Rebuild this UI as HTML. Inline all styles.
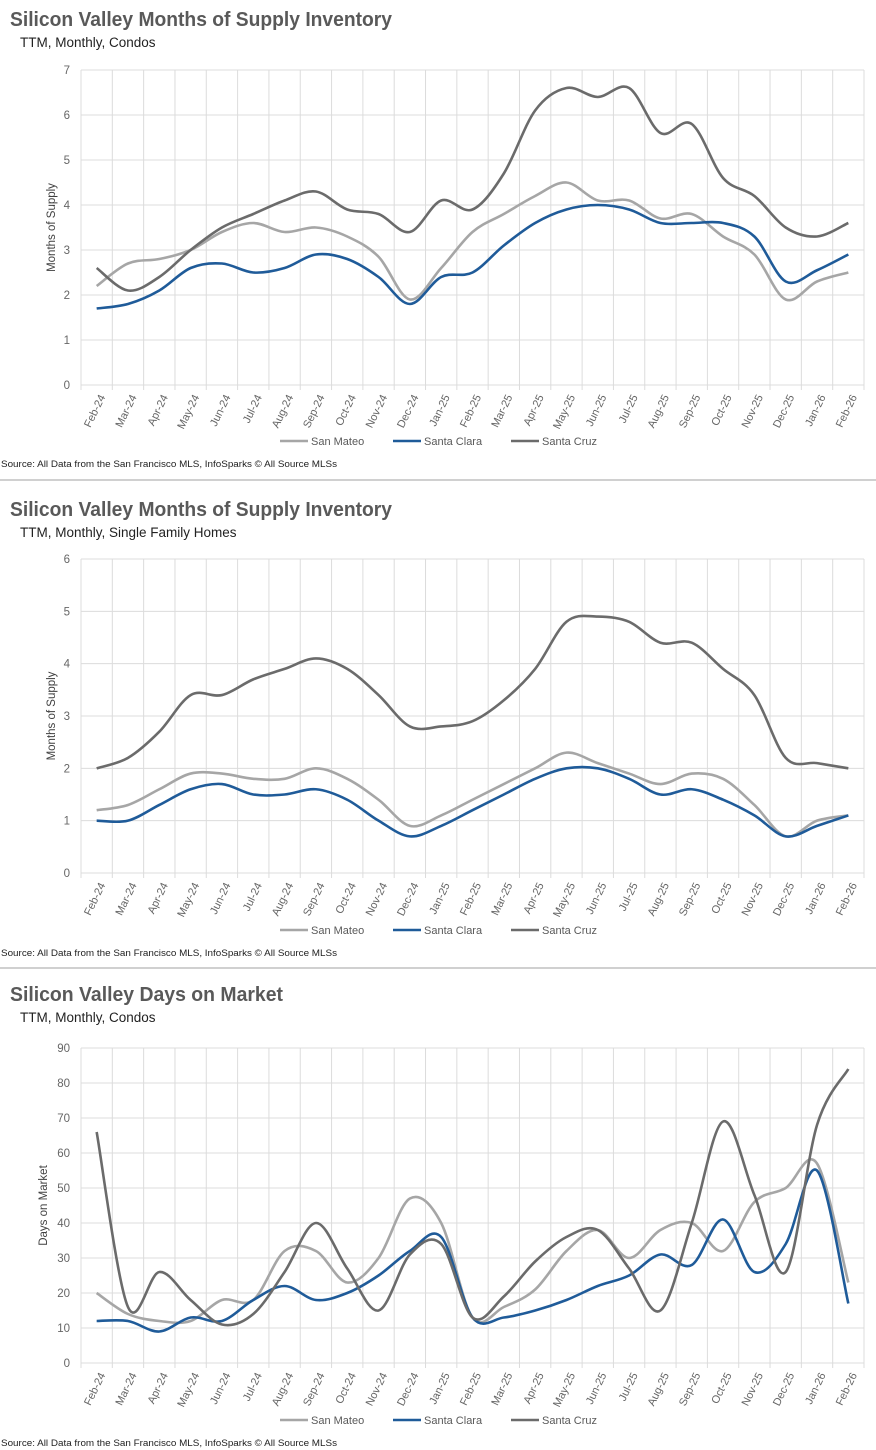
<!DOCTYPE html>
<html><head><meta charset="utf-8"><style>
body{margin:0;background:#fff;width:876px;height:1450px;overflow:hidden;font-family:"Liberation Sans",sans-serif}
svg{display:block}
</style></head><body>
<svg id="s" width="876" height="1450" xmlns="http://www.w3.org/2000/svg" font-family="Liberation Sans, sans-serif"></svg>
<script>
const months=["Feb-24","Mar-24","Apr-24","May-24","Jun-24","Jul-24","Aug-24","Sep-24","Oct-24","Nov-24","Dec-24","Jan-25","Feb-25","Mar-25","Apr-25","May-25","Jun-25","Jul-25","Aug-25","Sep-25","Oct-25","Nov-25","Dec-25","Jan-26","Feb-26"];
const seriesNames=["San Mateo","Santa Clara","Santa Cruz"];
const condoMosSanMateo=[2.2,2.7,2.8,3.0,3.4,3.6,3.4,3.5,3.3,2.85,1.9,2.6,3.4,3.8,4.2,4.5,4.1,4.1,3.7,3.8,3.3,2.9,1.9,2.3,2.5];
const condoMosSantaClara=[1.7,1.8,2.1,2.6,2.7,2.5,2.6,2.9,2.8,2.4,1.8,2.4,2.5,3.1,3.6,3.9,4.0,3.9,3.6,3.6,3.6,3.3,2.3,2.55,2.9];
const condoMosSantaCruz=[2.6,2.1,2.4,3.0,3.5,3.8,4.1,4.3,3.9,3.8,3.4,4.1,3.9,4.7,6.1,6.6,6.4,6.6,5.6,5.8,4.6,4.2,3.5,3.3,3.6];
const sfhMosSanMateo=[1.2,1.3,1.6,1.9,1.9,1.8,1.8,2.0,1.8,1.4,0.9,1.1,1.4,1.7,2.0,2.3,2.1,1.9,1.7,1.9,1.8,1.3,0.7,1.0,1.1];
const sfhMosSantaClara=[1.0,1.0,1.3,1.6,1.7,1.5,1.5,1.6,1.4,1.0,0.7,0.9,1.2,1.5,1.8,2.0,2.0,1.8,1.5,1.6,1.4,1.1,0.7,0.9,1.1];
const sfhMosSantaCruz=[2.0,2.2,2.7,3.4,3.4,3.7,3.9,4.1,3.9,3.4,2.8,2.8,2.9,3.3,3.9,4.8,4.9,4.8,4.4,4.4,3.9,3.4,2.2,2.1,2.0];
const domSanMateo=[20,14,12,12,18,18,32,32,23,30,47,40,13,16,21,32,38,30,38,40,32,46,50,57,23];
const domSantaClara=[12,12,9,13,12,18,22,18,20,25,32,36,13,13,15,18,22,25,31,28,41,26,34,55,17];
const domSantaCruz=[66,16,26,18,11,14,26,40,27,15,31,34,13,19,29,36,38,27,15,40,69,48,26,68,84];
const mosTicks=[0,1,2,3,4,5,6,7];
const sfhTicks=[0,1,2,3,4,5,6];
const domTicks=[0,10,20,30,40,50,60,70,80,90];
const colors=["#a6a6a6","#1f5b99","#6b6b6b"];

const NS="http://www.w3.org/2000/svg";
const svg=document.getElementById('s');
function mk(tag,attrs,parent,text){const e=document.createElementNS(NS,tag);for(const k in attrs)e.setAttribute(k,attrs[k]);if(text!==undefined)e.textContent=text;(parent||svg).appendChild(e);return e;}

function chart(cfg){
  const g=mk('g',{});
  
  
  const L=81,R=864,top=cfg.top,bot=cfg.bot;
  const n=months.length, bw=(R-L)/n;
  const maxV=cfg.ticks[cfg.ticks.length-1];
  const xs=i=>L+bw*(i+0.5);
  const ys=v=>bot-(v/maxV)*(bot-top);
  const t=mk('text',{x:10,y:cfg.ty,'font-size':20,'font-weight':'bold',fill:'#595959',textLength:cfg.tl,lengthAdjust:'spacingAndGlyphs'},g,cfg.title);
  
  const st=mk('text',{x:20,y:cfg.ty+21,'font-size':13.5,fill:'#222'},g,cfg.sub);
  
  cfg.ticks.forEach(v=>{
    const gl=mk('line',{x1:L,x2:R,y1:ys(v),y2:ys(v),stroke:'#dcdcdc','stroke-width':1},g);
    
    const tl=mk('text',{x:70,y:ys(v)+4,'font-size':11.5,fill:'#666','text-anchor':'end'},g,String(v));
    
  });
  for(let i=0;i<=n;i++){
    const x=L+bw*i;
    const vl=mk('line',{x1:x,x2:x,y1:top,y2:bot+5,stroke:'#dcdcdc','stroke-width':1},g);
    
  }
  months.forEach((m,i)=>{
    const x=xs(i)+3,y=bot+9;
    const tl=mk('text',{x:x,y:y,'font-size':11,fill:'#666','text-anchor':'end',transform:`rotate(-64 ${x} ${y})`,dy:'0.6em'},g,m);
    
  });
  const yt=mk('text',{x:0,y:0,'font-size':11.5,fill:'#404040','text-anchor':'middle',transform:`translate(${cfg.yx} ${(top+bot)/2}) rotate(-90)`},g,cfg.ytitle);
  
  cfg.series.forEach((d,si)=>{
    const p=d.map((v,i)=>[xs(i),ys(v)]);
    let s=`M${p[0][0]},${p[0][1]}`;
    for(let i=0;i<p.length-1;i++){
      const p0=p[Math.max(0,i-1)],p1=p[i],p2=p[i+1],p3=p[Math.min(p.length-1,i+2)];
      const c1=[p1[0]+(p2[0]-p0[0])/6,p1[1]+(p2[1]-p0[1])/6];
      const c2=[p2[0]-(p3[0]-p1[0])/6,p2[1]-(p3[1]-p1[1])/6];
      s+=` C${c1[0]},${c1[1]} ${c2[0]},${c2[1]} ${p2[0]},${p2[1]}`;
    }
    const path=mk('path',{d:s,fill:'none',stroke:colors[si],'stroke-width':2.6,'stroke-linejoin':'round'},g);
    
    
  });
  const lx=[280,393,511];
  seriesNames.forEach((nm,si)=>{
    const lg=mk('g',{},g);
    
    mk('line',{x1:lx[si],x2:lx[si]+28,y1:cfg.ly,y2:cfg.ly,stroke:colors[si],'stroke-width':2.6},lg);
    mk('text',{x:lx[si]+31,y:cfg.ly+4,'font-size':11,fill:'#595959'},lg,nm);
  });
  const src=mk('text',{x:1,y:cfg.ly+26,'font-size':9,fill:'#222',textLength:336,lengthAdjust:'spacingAndGlyphs'},g,'Source: All Data from the San Francisco MLS, InfoSparks © All Source MLSs');
  
}
chart({name:'condo-months-supply-chart',title:'Silicon Valley Months of Supply Inventory',sub:'TTM, Monthly, Condos',ty:26,tl:382,top:70,bot:385,ticks:mosTicks,ytitle:'Months of Supply',yx:55,ly:441,series:[condoMosSanMateo,condoMosSantaClara,condoMosSantaCruz]});
chart({name:'sfh-months-supply-chart',title:'Silicon Valley Months of Supply Inventory',sub:'TTM, Monthly, Single Family Homes',ty:516,tl:382,top:559,bot:873,ticks:sfhTicks,ytitle:'Months of Supply',yx:55,ly:930,series:[sfhMosSanMateo,sfhMosSantaClara,sfhMosSantaCruz]});
chart({name:'condo-days-on-market-chart',title:'Silicon Valley Days on Market',sub:'TTM, Monthly, Condos',ty:1001,tl:273,top:1048,bot:1363,ticks:domTicks,ytitle:'Days on Market',yx:47,ly:1420,series:[domSanMateo,domSantaClara,domSantaCruz]});
[480,968].forEach(y=>{const l=mk('line',{x1:0,x2:876,y1:y,y2:y,stroke:'#d0d0d0','stroke-width':2});

});
</script>
</body></html>
